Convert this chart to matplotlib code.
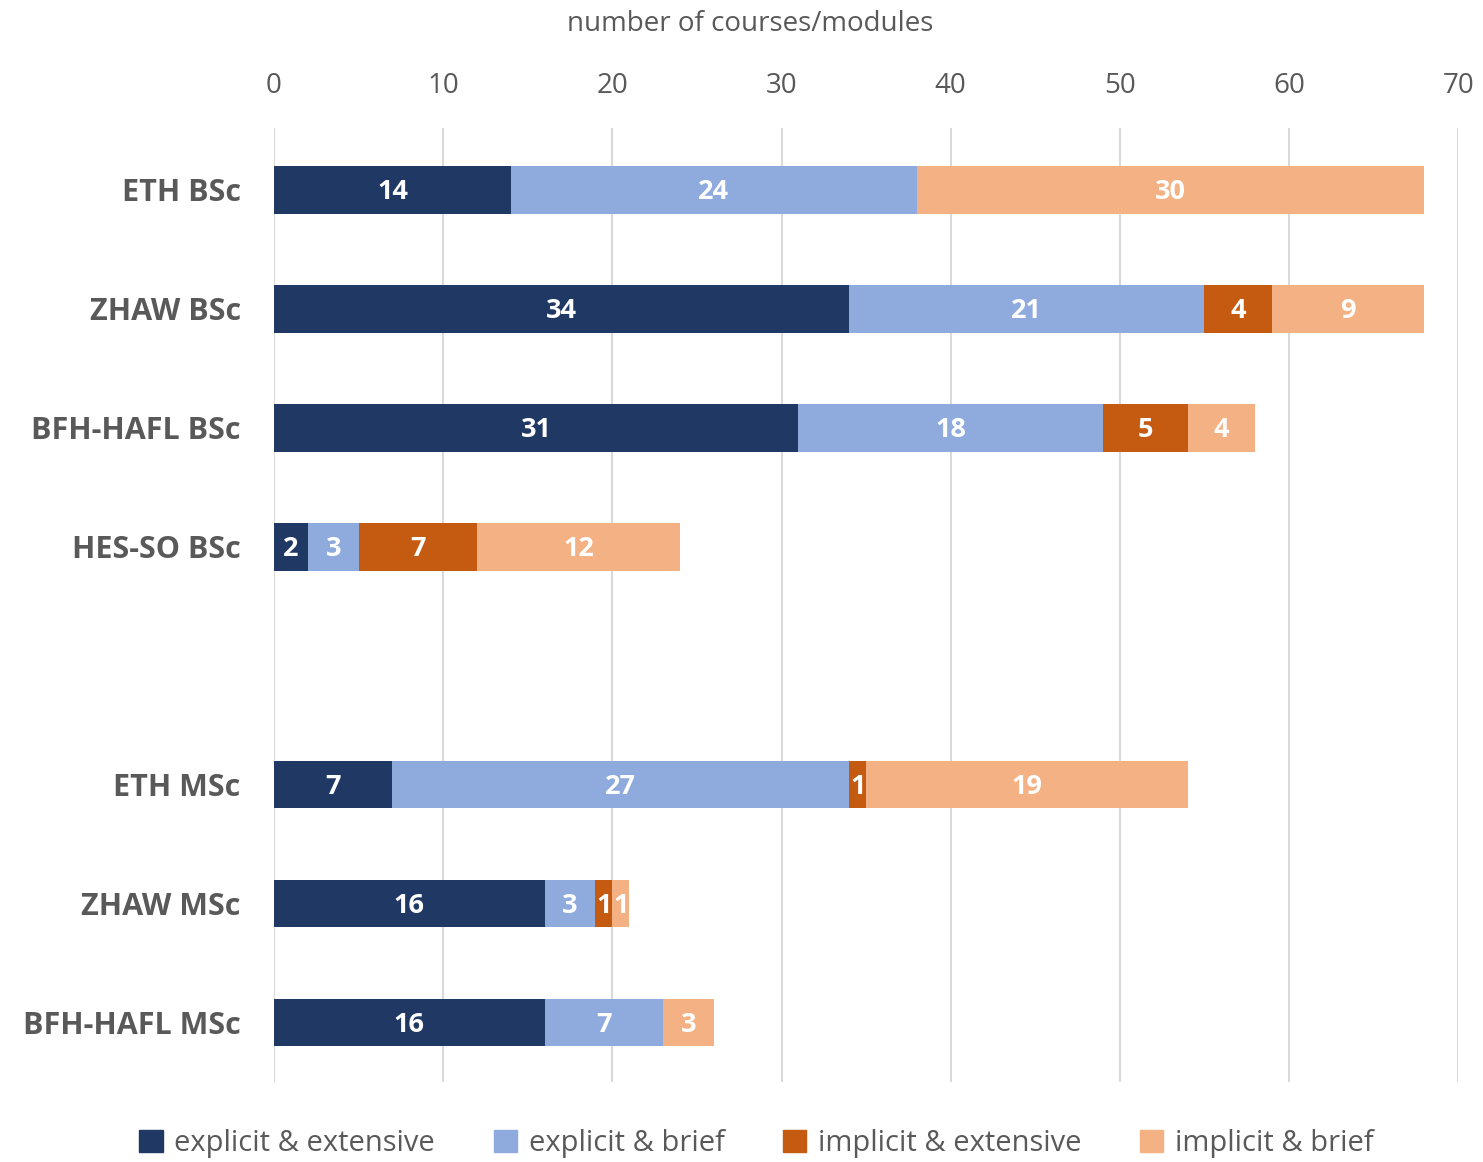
import numpy as np
import matplotlib.pyplot as plt
from matplotlib.patches import Patch

plt.rcParams['font.family'] = ['Open Sans', 'DejaVu Sans']

categories = ["ETH BSc", "ZHAW BSc", "BFH-HAFL BSc", "HES-SO BSc",
              "ETH MSc", "ZHAW MSc", "BFH-HAFL MSc"]
slots = [0, 1, 2, 3, 5, 6, 7]  # empty slot between BSc and MSc

series_names = ["explicit & extensive", "explicit & brief",
                "implicit & extensive", "implicit & brief"]
explicit_extensive = [14, 34, 31, 2, 7, 16, 16]
explicit_brief = [24, 21, 18, 3, 27, 3, 7]
implicit_extensive = [0, 4, 5, 7, 1, 1, 0]
implicit_brief = [30, 9, 4, 12, 19, 1, 3]

colors = ["#203864", "#8FAADC", "#C55A11", "#F4B183"]
grey = "#595959"

fig = plt.figure(figsize=(14.83, 11.62), dpi=100)
ax = fig.add_axes([0.1848, 0.0688, 0.7985, 0.821])

left = np.zeros(len(categories))
for name, vals, col in zip(series_names,
                           [explicit_extensive, explicit_brief, implicit_extensive, implicit_brief],
                           colors):
    vals = np.array(vals, dtype=float)
    ax.barh(slots, vals, left=left, height=0.4, color=col, zorder=3)
    for y, l, v in zip(slots, left, vals):
        if v > 0:
            ax.text(l + v / 2, y + 0.02, f"{int(v)}", ha="center", va="center",
                    color="white", fontsize=19.5, fontweight="bold", zorder=4)
    left += vals

ax.set_xlim(0, 70)
ax.set_ylim(7.5, -0.52)
ax.set_xticks(range(0, 71, 10))
ax.xaxis.tick_top()
ax.tick_params(axis="x", length=0, labelsize=20, labelcolor=grey, pad=20.5)
fig.text(0.506, 0.979, "number of courses/modules", ha="center", va="center",
         fontsize=20, color=grey)
ax.set_yticks(slots)
ax.set_yticklabels(categories, fontsize=22, fontweight="bold", color=grey)
ax.tick_params(axis="y", length=0, pad=24)
ax.grid(axis="x", color="#D9D9D9", linewidth=1.5, zorder=0)
for s in ax.spines.values():
    s.set_visible(False)

handles = [Patch(color=c, label=n) for c, n in zip(colors, series_names)]
fig.legend(handles=handles, loc="center", bbox_to_anchor=(0.51, 0.016),
           ncol=4, frameon=False, fontsize=21, labelcolor=grey,
           handlelength=0.8, handleheight=0.8, handletextpad=0.4, columnspacing=2.0)

fig.savefig("out.png", dpi=100)
